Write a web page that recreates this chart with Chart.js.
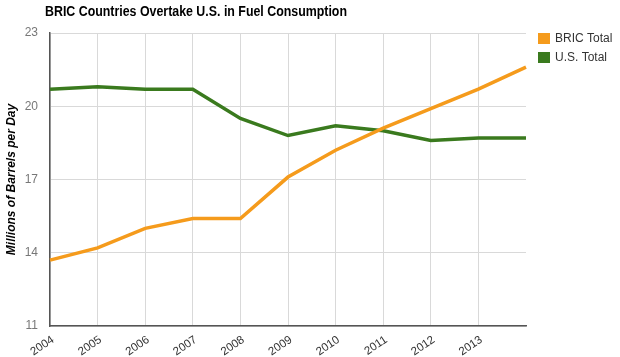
<!DOCTYPE html>
<html><head><meta charset="utf-8">
<script src="https://cdn.jsdelivr.net/npm/chart.js@4"></script>
<style>html,body{margin:0;padding:0;background:#fff}#wrap{width:620px;height:357px;position:relative}</style>
</head><body><div id="wrap"><canvas id="c"></canvas></div>
<script>
const years = ['2004','2005','2006','2007','2008','2009','2010','2011','2012','2013','2014'];
const bricTotal = [13.7,14.2,15.0,15.4,15.4,17.1,18.2,19.1,19.9,20.7,21.6];
const usTotal = [20.7,20.8,20.7,20.7,19.5,18.8,19.2,19.0,18.6,18.7,18.7];
const yTicks = [11,14,17,20,23];
const titleText = 'BRIC Countries Overtake U.S. in Fuel Consumption';
const FONT = '"Liberation Sans", Arial, sans-serif';

const titlePlugin = {
  id:'leftTitle',
  afterDraw(chart){
    const ctx = chart.ctx;
    ctx.save();
    ctx.font = 'bold 14px ' + FONT;
    ctx.fillStyle = '#000';
    ctx.textBaseline = 'middle';
    ctx.textAlign = 'left';
    const w = ctx.measureText(titleText).width;
    ctx.translate(45, 12);
    ctx.scale(302 / w, 1);
    ctx.fillText(titleText, 0, 0);
    ctx.restore();
  }
};

const legendPlugin = {
  id:'sideLegend',
  afterDraw(chart){
    const ctx = chart.ctx;
    const area = chart.chartArea;
    ctx.save();
    ctx.font = '12px ' + FONT;
    ctx.textBaseline = 'middle';
    ctx.textAlign = 'left';
    chart.data.datasets.forEach((ds, i) => {
      const x = area.right + 12;
      const y = area.top + i * 19;
      ctx.fillStyle = ds.borderColor;
      ctx.fillRect(x, y, 12, 11);
      ctx.fillStyle = '#333';
      ctx.fillText(ds.label, x + 17, y + 5.5);
    });
    ctx.restore();
  }
};

new Chart(document.getElementById('c'), {
  type:'line',
  data:{
    labels: years,
    datasets:[
      {label:'BRIC Total', data:bricTotal, borderColor:'#f59b1c', backgroundColor:'#f59b1c', borderWidth:3.5, pointRadius:0, tension:0},
      {label:'U.S. Total', data:usTotal, borderColor:'#3a7a1e', backgroundColor:'#3a7a1e', borderWidth:3.5, pointRadius:0, tension:0}
    ]
  },
  options:{
    responsive:true, maintainAspectRatio:false, animation:false,
    layout:{padding:{top:33, left:4, right:94, bottom:0}},
    plugins:{
      title:{display:false},
      tooltip:{enabled:false},
      legend:{display:false}
    },
    scales:{
      x:{
        grid:{color:(c)=> c.index===years.length-1 ? 'rgba(0,0,0,0)' : '#d9d9d9', lineWidth:1, drawTicks:false},
        border:{color:'#555', width:1.5},
        ticks:{color:'#333', maxRotation:34, minRotation:34, padding:7, labelOffset:3, autoSkip:false,
          font:{family:FONT, size:11.5},
          callback:(v,i)=> i===years.length-1 ? '' : years[i]},
        afterFit:(s)=>{s.height=31;}
      },
      y:{
        min:11, max:23,
        afterBuildTicks:(s)=>{s.ticks = yTicks.map(v=>({value:v}));},
        grid:{color:'#d9d9d9', lineWidth:1, drawTicks:false},
        border:{color:'#555', width:1.5},
        ticks:{color:'#777', padding:12, font:{family:FONT, size:12}},
        title:{display:true, text:'Millions of Barrels per Day', color:'#000', padding:{top:0,bottom:4},
          font:{family:FONT, size:12, style:'italic', weight:'bold'}},
        afterFit:(s)=>{s.width=46;}
      }
    }
  },
  plugins:[titlePlugin, legendPlugin]
});
</script></body></html>
